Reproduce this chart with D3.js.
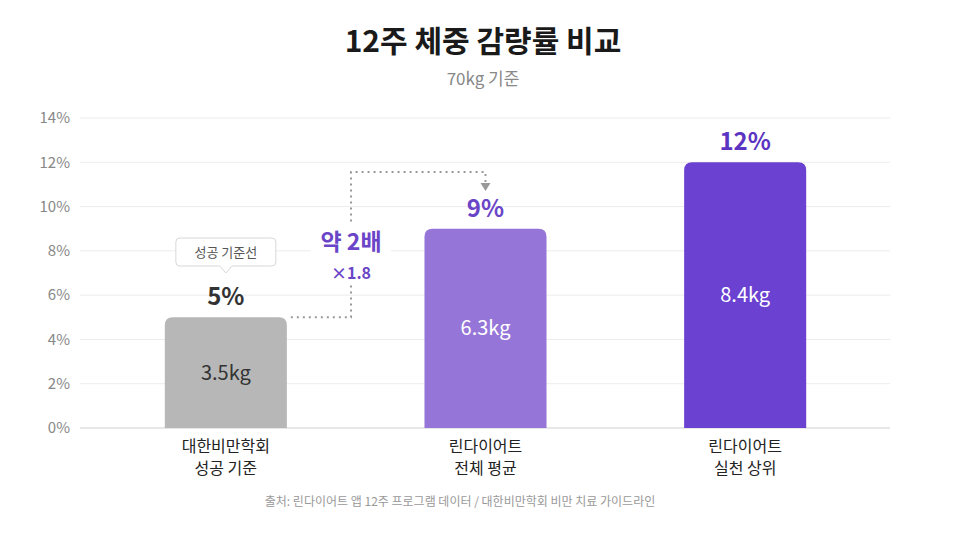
<!DOCTYPE html>
<html><head><meta charset="utf-8">
<script src="https://cdn.jsdelivr.net/npm/d3@7"></script>
<style>body{margin:0;background:#fff;font-family:"Noto Sans CJK KR","Noto Sans",sans-serif;}</style>
</head><body><div id="chart"></div>
<script>
const categories = ["대한비만학회\n성공 기준", "린다이어트\n전체 평균", "린다이어트\n실천 상위"];
const rates = [5, 9, 12];
const kgs = ["3.5kg", "6.3kg", "8.4kg"];
const rateLabels = ["5%", "9%", "12%"];
const colors = ["#b7b7b7", "#9576d8", "#6a41d1"];
const labelColors = ["#333333", "#6a45c8", "#5b35c2"];
const yTicks = [0, 2, 4, 6, 8, 10, 12, 14];

const width = 966, height = 553;
const svg = d3.select("#chart").append("svg").attr("width", width).attr("height", height);

const x = d3.scaleBand().domain(categories).range([96, 875]).paddingInner(0.53).paddingOuter(0.265);
const y = d3.scaleLinear().domain([0, 14]).range([428, 118]);

svg.append("text").attr("x", 483).attr("y", 52).attr("text-anchor", "middle")
    .attr("font-size", 30).attr("font-weight", 700).attr("fill", "#1a1a1a").text("12주 체중 감량률 비교");
svg.append("text").attr("x", 483).attr("y", 85).attr("text-anchor", "middle")
    .attr("font-size", 17).attr("fill", "#888").text("70kg 기준");

// grid
svg.append("g").selectAll("line").data(yTicks).join("line")
    .attr("x1", 80).attr("x2", 890).attr("y1", d => y(d)).attr("y2", d => y(d))
    .attr("stroke", d => d === 0 ? "#cfcfcf" : "#ececec");
svg.append("g").selectAll("text").data(yTicks).join("text")
    .attr("x", 70).attr("y", d => y(d)).attr("dy", "0.35em").attr("text-anchor", "end")
    .attr("font-size", 15).attr("fill", "#888").text(d => d + "%");

// bars
svg.append("g").selectAll("path").data(categories).join("path")
    .attr("fill", (d, i) => colors[i])
    .attr("d", (d, i) => {
        const x0 = x(d), w = x.bandwidth(), y0 = y(rates[i]), y1 = y(0), r = 8;
        return `M${x0},${y1}V${y0 + r}Q${x0},${y0} ${x0 + r},${y0}H${x0 + w - r}Q${x0 + w},${y0} ${x0 + w},${y0 + r}V${y1}Z`;
    });

svg.append("g").selectAll("text").data(categories).join("text")
    .attr("x", d => x(d) + x.bandwidth() / 2)
    .attr("y", (d, i) => (y(rates[i]) + y(0)) / 2).attr("dy", "0.35em")
    .attr("text-anchor", "middle").attr("font-size", 20)
    .attr("fill", (d, i) => i === 0 ? "#333" : "#fff").text((d, i) => kgs[i]);

svg.append("g").selectAll("text").data(categories).join("text")
    .attr("x", d => x(d) + x.bandwidth() / 2)
    .attr("y", (d, i) => y(rates[i]) - 12)
    .attr("text-anchor", "middle").attr("font-size", 24).attr("font-weight", 700)
    .attr("fill", (d, i) => labelColors[i]).text((d, i) => rateLabels[i]);

// category labels
categories.forEach((c, i) => {
    const t = svg.append("text").attr("x", x(c) + x.bandwidth() / 2).attr("y", 452)
        .attr("text-anchor", "middle").attr("font-size", 16).attr("fill", "#222");
    c.split("\n").forEach((s, j) => t.append("tspan").attr("x", x(c) + x.bandwidth() / 2).attr("dy", j ? 22 : 0).text(s));
});

// tooltip
const cx0 = x(categories[0]) + x.bandwidth() / 2;
svg.append("path")
    .attr("d", `M${cx0 - 46},238 H${cx0 + 46} Q${cx0 + 50},238 ${cx0 + 50},242 V262 Q${cx0 + 50},266 ${cx0 + 46},266 H${cx0 + 6} L${cx0},273 L${cx0 - 6},266 H${cx0 - 46} Q${cx0 - 50},266 ${cx0 - 50},262 V242 Q${cx0 - 50},238 ${cx0 - 46},238 Z`)
    .attr("fill", "#fff").attr("stroke", "#d8d8d8");
svg.append("text").attr("x", cx0).attr("y", 252).attr("dy", "0.35em").attr("text-anchor", "middle")
    .attr("font-size", 13).attr("fill", "#555").text("성공 기준선");

// connector
const xr = x(categories[0]) + x.bandwidth() + 4, xm = 351, cx1 = x(categories[1]) + x.bandwidth() / 2;
svg.append("path")
    .attr("d", `M${xr},${y(5)} H${xm} V172 H${cx1} V183`)
    .attr("fill", "none").attr("stroke", "#999").attr("stroke-width", 2).attr("stroke-dasharray", "2,4");
svg.append("path").attr("d", `M${cx1 - 5},183 L${cx1 + 5},183 L${cx1},191 Z`).attr("fill", "#999");
svg.append("rect").attr("x", xm - 40).attr("y", 224).attr("width", 80).attr("height", 60).attr("fill", "#fff");
svg.append("text").attr("x", xm).attr("y", 250).attr("text-anchor", "middle")
    .attr("font-size", 23).attr("font-weight", 700).attr("fill", "#6a45c8").text("약 2배");
svg.append("text").attr("x", xm).attr("y", 279).attr("text-anchor", "middle")
    .attr("font-size", 16).attr("font-weight", 700).attr("fill", "#6a45c8").text("×1.8");

svg.append("text").attr("x", 460).attr("y", 506).attr("text-anchor", "middle")
    .attr("font-size", 12).attr("fill", "#999").text("출처: 린다이어트 앱 12주 프로그램 데이터 / 대한비만학회 비만 치료 가이드라인");
</script></body></html>
